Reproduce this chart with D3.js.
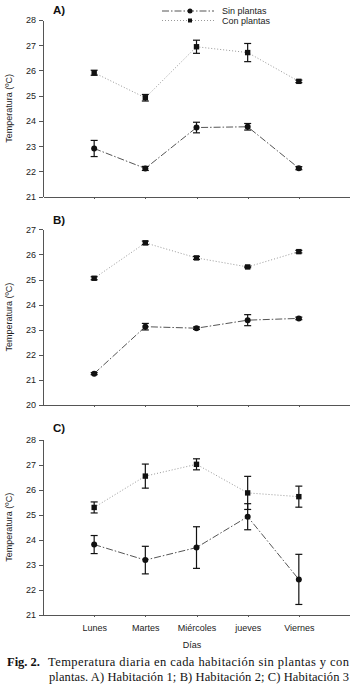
<!DOCTYPE html>
<meta charset="utf-8">
<style>
body { margin: 0; background: #fff; }
svg { display: block; font-family: "Liberation Sans", Arial, sans-serif; }
.axis path, .axis line { stroke: #555; shape-rendering: crispEdges; }
.axis text { font-size: 9px; fill: #222; }
.caption { font-family: "Liberation Serif", "Times New Roman", serif; font-size: 12.5px; fill: #111; }
</style>
<body>
<script src="https://cdn.jsdelivr.net/npm/d3@7"></script>
<script>
// data
var dias = ["Lunes", "Martes", "Miércoles", "jueves", "Viernes"];

// A) Habitación 1
var sinA = [22.91, 22.12, 23.74, 23.77, 22.13];
var sinAErr = [0.32, 0.08, 0.21, 0.13, 0.06];
var conA = [25.91, 24.92, 26.94, 26.71, 25.57];
var conAErr = [0.10, 0.13, 0.26, 0.36, 0.05];

// B) Habitación 2
var sinB = [21.25, 23.12, 23.06, 23.38, 23.45];
var sinBErr = [0.04, 0.13, 0.05, 0.22, 0.05];
var conB = [25.05, 26.46, 25.86, 25.50, 26.11];
var conBErr = [0.06, 0.07, 0.06, 0.03, 0.05];

// C) Habitación 3
var sinC = [23.81, 23.19, 23.69, 24.92, 22.42];
var sinCErr = [0.36, 0.55, 0.83, 0.52, 1.00];
var conC = [25.29, 26.54, 27.01, 25.87, 25.72];
var conCErr = [0.22, 0.48, 0.22, 0.66, 0.42];

var serieNames = ["Sin plantas", "Con plantas"];

var width = 350, height = 690;
var svg = d3.select("body").append("svg")
    .attr("width", width)
    .attr("height", height);

var x = d3.scalePoint()
    .domain(dias)
    .range([43, 350])
    .padding(1);

var panels = [
  {label: "A)", sin: sinA, sinErr: sinAErr, con: conA, conErr: conAErr, yd: [21, 28], top: 20, bottom: 196.7, labelY: 13.5},
  {label: "B)", sin: sinB, sinErr: sinBErr, con: conB, conErr: conBErr, yd: [20, 27], top: 229.3, bottom: 405, labelY: 224},
  {label: "C)", sin: sinC, sinErr: sinCErr, con: conC, conErr: conCErr, yd: [21, 28], top: 439.5, bottom: 615, labelY: 432}
];

// line styles
var styles = {
  sin: {stroke: "#555", dash: "7,2,1.5,2", width: 1},
  con: {stroke: "#999", dash: "1,2", width: 1}
};

panels.forEach(function(p, pi) {
  var y = d3.scaleLinear().domain(p.yd).range([p.bottom, p.top]);
  var g = svg.append("g");

  // axes
  g.append("g")
      .attr("class", "axis")
      .attr("transform", "translate(0," + p.bottom + ")")
      .call(d3.axisBottom(x).tickSize(2).tickSizeOuter(0).tickFormat(pi === 2 ? null : ""))
      .selectAll("text").attr("dy", "1.2em");

  g.append("g")
      .attr("class", "axis")
      .attr("transform", "translate(43,0)")
      .call(d3.axisLeft(y).ticks(7).tickSize(4).tickSizeOuter(0).tickPadding(3));

  // y label
  g.append("text")
      .attr("transform", "translate(12," + ((p.top + p.bottom) / 2) + ") rotate(-90)")
      .attr("text-anchor", "middle")
      .style("font-size", "9px")
      .attr("fill", "#222")
      .text("Temperatura (ºC)");

  // panel label
  g.append("text")
      .attr("x", 53)
      .attr("y", p.labelY)
      .style("font-size", "11.5px")
      .style("font-weight", "bold")
      .attr("fill", "#111")
      .text(p.label);

  [["con", p.con, p.conErr], ["sin", p.sin, p.sinErr]].forEach(function(s) {
    var key = s[0], vals = s[1], errs = s[2];
    var st = styles[key];
    var pts = vals.map(function(v, i) { return {d: dias[i], v: v, e: errs[i]}; });

    g.append("path")
        .datum(pts)
        .attr("fill", "none")
        .attr("stroke", st.stroke)
        .attr("stroke-width", st.width)
        .attr("stroke-dasharray", st.dash)
        .attr("d", d3.line().x(function(d) { return x(d.d); }).y(function(d) { return y(d.v); }));

    // error bars
    var eb = g.append("g").attr("stroke", "#111").attr("stroke-width", 1.2);
    eb.selectAll("line.v").data(pts).enter().append("line")
        .attr("x1", function(d) { return x(d.d); })
        .attr("x2", function(d) { return x(d.d); })
        .attr("y1", function(d) { return y(d.v - d.e); })
        .attr("y2", function(d) { return y(d.v + d.e); });
    [-1, 1].forEach(function(sign) {
      eb.selectAll("line.c" + sign).data(pts).enter().append("line")
          .attr("x1", function(d) { return x(d.d) - 3.5; })
          .attr("x2", function(d) { return x(d.d) + 3.5; })
          .attr("y1", function(d) { return y(d.v + sign * d.e); })
          .attr("y2", function(d) { return y(d.v + sign * d.e); });
    });

    // markers
    if (key === "sin") {
      g.selectAll(null).data(pts).enter().append("circle")
          .attr("cx", function(d) { return x(d.d); })
          .attr("cy", function(d) { return y(d.v); })
          .attr("r", 3)
          .attr("fill", "#111");
    } else {
      g.selectAll(null).data(pts).enter().append("rect")
          .attr("x", function(d) { return x(d.d) - 2.7; })
          .attr("y", function(d) { return y(d.v) - 2.7; })
          .attr("width", 5.4)
          .attr("height", 5.4)
          .attr("fill", "#111");
    }
  });
});

// x label
svg.append("text")
    .attr("x", 192)
    .attr("y", 648)
    .attr("text-anchor", "middle")
    .style("font-size", "9px")
    .attr("fill", "#222")
    .text("Días");

// legend
var legend = svg.append("g");
[["sin", 11], ["con", 20.5]].forEach(function(l, i) {
  var st = styles[l[0]];
  legend.append("line")
      .attr("x1", 162).attr("x2", 214)
      .attr("y1", l[1]).attr("y2", l[1])
      .attr("stroke", st.stroke)
      .attr("stroke-dasharray", st.dash);
  if (l[0] === "sin") {
    legend.append("circle").attr("cx", 190).attr("cy", l[1]).attr("r", 2.5).attr("fill", "#111");
  } else {
    legend.append("rect").attr("x", 188).attr("y", l[1] - 2).attr("width", 4).attr("height", 4).attr("fill", "#111");
  }
  legend.append("text")
      .attr("x", 222)
      .attr("y", l[1] + 3)
      .style("font-size", "9px")
      .attr("fill", "#222")
      .text(serieNames[i]);
});

// caption
var cap = svg.append("g").attr("class", "caption");
cap.append("text")
    .attr("x", 7).attr("y", 666)
    .style("font-weight", "bold")
    .text("Fig. 2.");
cap.append("text")
    .attr("x", 48).attr("y", 666)
    .attr("textLength", 301)
    .attr("lengthAdjust", "spacing")
    .text("Temperatura diaria en cada habitación sin plantas y con");
cap.append("text")
    .attr("x", 49).attr("y", 681)
    .attr("textLength", 300)
    .attr("lengthAdjust", "spacing")
    .text("plantas. A) Habitación 1; B) Habitación 2; C) Habitación 3");
</script>
</body>
